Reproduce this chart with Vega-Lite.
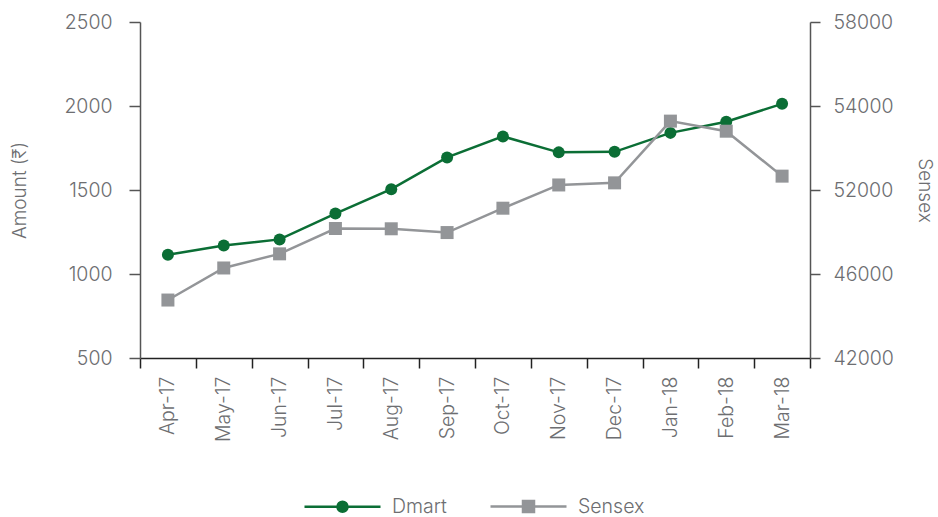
{
  "$schema": "https://vega.github.io/schema/vega-lite/v6.json",
  "width": 670,
  "height": 336,
  "autosize": {"type": "none"},
  "padding": {"left": 140, "top": 22, "right": 128, "bottom": 159},
  "background": "white",
  "config": {
    "view": {"stroke": null},
    "axis": {
      "labelFont": "Inter",
      "labelFontWeight": 300,
      "labelFontSize": 19.5,
      "labelColor": "#6d6e71",
      "titleFont": "Inter",
      "titleFontWeight": 300,
      "titleFontSize": 19,
      "titleColor": "#6d6e71",
      "domainColor": "#555555",
      "tickColor": "#555555",
      "domainWidth": 1.5,
      "tickWidth": 1.5,
      "grid": false
    }
  },
  "data": {
    "values": [
      {"month": "Apr-17", "Dmart": 1115, "Sensex": 44760},
      {"month": "May-17", "Dmart": 1169, "Sensex": 46430},
      {"month": "Jun-17", "Dmart": 1206, "Sensex": 47440},
      {"month": "Jul-17", "Dmart": 1360, "Sensex": 49250},
      {"month": "Aug-17", "Dmart": 1505, "Sensex": 49230},
      {"month": "Sep-17", "Dmart": 1694, "Sensex": 48960},
      {"month": "Oct-17", "Dmart": 1819, "Sensex": 50700},
      {"month": "Nov-17", "Dmart": 1724, "Sensex": 52120},
      {"month": "Dec-17", "Dmart": 1727, "Sensex": 52170},
      {"month": "Jan-18", "Dmart": 1840, "Sensex": 53640},
      {"month": "Feb-18", "Dmart": 1906, "Sensex": 53400},
      {"month": "Mar-18", "Dmart": 2013, "Sensex": 52330}
    ]
  },
  "encoding": {
    "x": {
      "field": "month",
      "type": "ordinal",
      "sort": null,
      "scale": {"type": "band", "paddingInner": 0, "paddingOuter": 0},
      "axis": {
        "title": null,
        "labelAngle": -90,
        "tickBand": "extent",
        "tickSize": 10,
        "labelPadding": 8,
        "domainColor": "#222222",
        "tickColor": "#222222"
      }
    }
  },
  "layer": [
    {
      "encoding": {
        "y": {
          "field": "Dmart",
          "type": "quantitative",
          "scale": {"domain": [500, 2500], "nice": false, "zero": false},
          "axis": {
            "title": "Amount (₹)",
            "values": [500, 1000, 1500, 2000, 2500],
            "tickSize": 11,
            "labelPadding": 17,
            "titlePadding": 34,
            "format": "d"
          }
        }
      },
      "layer": [
        {
          "mark": {"type": "line", "strokeWidth": 2.5, "color": "#0b6e35"},
          "encoding": {
            "color": {
              "datum": "Dmart",
              "scale": {"domain": ["Dmart", "Sensex"], "range": ["#0b6e35", "#939598"]},
              "legend": {
                "orient": "none",
                "legendX": 191,
                "legendY": 473,
                "direction": "horizontal",
                "title": null,
                "symbolType": "M-1,0H1",
                "symbolSize": 400,
                "symbolStrokeWidth": 2.5,
                "labelFont": "Inter",
                "labelFontWeight": 300,
                "labelFontSize": 19.5,
                "labelColor": "#6d6e71",
                "labelOffset": 38,
                "columnPadding": 38,
                "encode": {
                  "symbols": {
                    "update": {
                      "shape": {"signal": "datum.value === 'Dmart' ? 'M-3.8,0H3.8M0.5,0A0.5,0.5 0 1,1 -0.5,0A0.5,0.5 0 1,1 0.5,0Z' : 'M-3.8,0H3.8M-0.55,-0.55H0.55V0.55H-0.55Z'"},
                      "fill": {"signal": "datum.value === 'Dmart' ? '#0b6e35' : '#939598'"},
                      "stroke": {"signal": "datum.value === 'Dmart' ? '#0b6e35' : '#9db29a'"},
                      "strokeWidth": {"value": 2.5},
                      "opacity": {"value": 1}
                    }
                  }
                }
              }
            }
          }
        },
        {
          "mark": {"type": "point", "shape": "circle", "filled": true, "size": 144, "color": "#0b6e35", "opacity": 1}
        }
      ]
    },
    {
      "encoding": {
        "y": {
          "field": "Sensex",
          "type": "quantitative",
          "scale": {
            "domain": [42000, 46000, 52000, 54000, 58000],
            "range": [336, 252, 168, 84, 0],
            "nice": false,
            "zero": false
          },
          "axis": {
            "orient": "right",
            "title": "Sensex",
            "values": [42000, 46000, 52000, 54000, 58000],
            "tickSize": 10,
            "labelPadding": 13,
            "titlePadding": 21,
            "format": "d"
          }
        }
      },
      "layer": [
        {
          "mark": {"type": "line", "strokeWidth": 2.5, "color": "#939598"},
          "encoding": {"color": {"datum": "Sensex"}}
        },
        {
          "mark": {"type": "point", "shape": "square", "filled": true, "size": 169, "color": "#939598", "opacity": 1}
        }
      ]
    }
  ],
  "resolve": {"scale": {"y": "independent"}}
}
